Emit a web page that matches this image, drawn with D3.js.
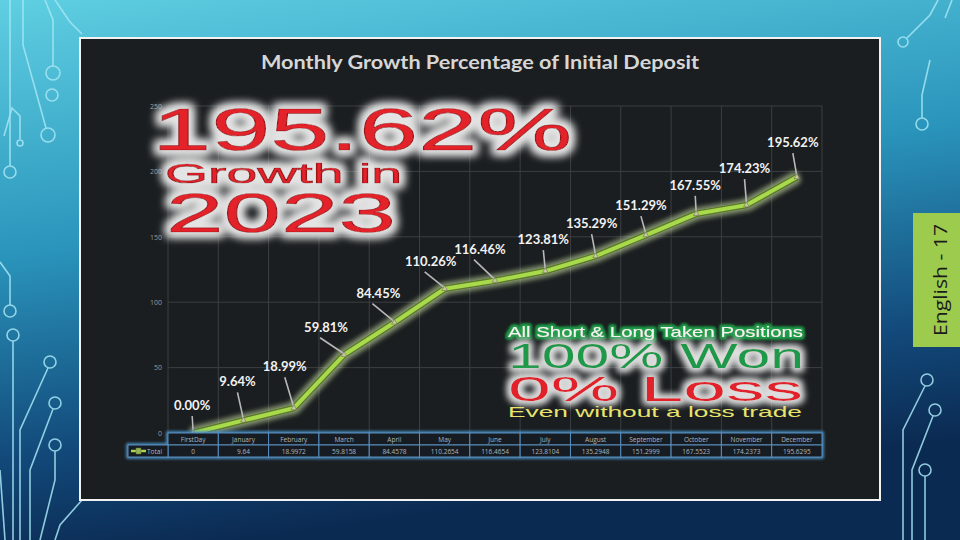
<!DOCTYPE html>
<html>
<head>
<meta charset="utf-8">
<script src="https://cdn.jsdelivr.net/npm/d3@7/dist/d3.min.js"></script>
<style>
  html, body { margin: 0; padding: 0; background: #0d2e55; }
  svg { display: block; }
</style>
</head>
<body>
<svg id="chart" width="960" height="540"></svg>
<script>
// ---------------- DATA ----------------
const categories = ["FirstDay", "January", "February", "March", "April", "May", "June",
  "July", "August", "September", "October", "November", "December"];
const values = [0, 9.64, 18.9972, 59.8158, 84.4578, 110.2654, 116.4654,
  123.8104, 135.2948, 151.2999, 167.5523, 174.2373, 195.6295];
const valueText = ["0", "9.64", "18.9972", "59.8158", "84.4578", "110.2654", "116.4654",
  "123.8104", "135.2948", "151.2999", "167.5523", "174.2373", "195.6295"];
const pointLabels = ["0.00%", "9.64%", "18.99%", "59.81%", "84.45%", "110.26%", "116.46%",
  "123.81%", "135.29%", "151.29%", "167.55%", "174.23%", "195.62%"];
const yTicks = [0, 50, 100, 150, 200, 250];
const seriesName = "Total";
const title = "Monthly Growth Percentage of Initial Deposit";
const bigLines = ["195.62%", "Growth in", "2023"];
const noteLines = ["All Short & Long Taken Positions", "100% Won", "0% Loss", "Even without a loss trade"];
const tabText = "English - 17";

// ---------------- LAYOUT ----------------
const svg = d3.select("#chart");
const defs = svg.append("defs");

// background gradient
const bg = defs.append("linearGradient").attr("id", "bg")
  .attr("x1", "0").attr("y1", "0").attr("x2", "0.25").attr("y2", "1");
bg.append("stop").attr("offset", "0").attr("stop-color", "#5fcfe2");
bg.append("stop").attr("offset", "0.45").attr("stop-color", "#2a94bb");
bg.append("stop").attr("offset", "0.8").attr("stop-color", "#12497a");
bg.append("stop").attr("offset", "1").attr("stop-color", "#0b2a52");
svg.append("rect").attr("width", 960).attr("height", 540).attr("fill", "url(#bg)");

// glow filters
function glowFilter(id, color, dilate, blur, opacity) {
  const f = defs.append("filter").attr("id", id)
    .attr("x", "-20%").attr("y", "-50%").attr("width", "140%").attr("height", "200%");
  f.append("feMorphology").attr("in", "SourceAlpha").attr("operator", "dilate")
    .attr("radius", dilate).attr("result", "d");
  f.append("feGaussianBlur").attr("in", "d").attr("stdDeviation", blur).attr("result", "b");
  f.append("feFlood").attr("flood-color", color).attr("flood-opacity", opacity).attr("result", "c");
  f.append("feComposite").attr("in", "c").attr("in2", "b").attr("operator", "in").attr("result", "g");
  const m = f.append("feMerge");
  m.append("feMergeNode").attr("in", "g");
  m.append("feMergeNode").attr("in", "g");
  m.append("feMergeNode").attr("in", "SourceGraphic");
}
glowFilter("whiteGlow", "#e4e4e4", 4, 5, 1);
glowFilter("softGlow", "#e0e0e0", 3, 3.5, 0.9);
glowFilter("greenGlow", "#23a04a", 1.5, 1.5, 0.95);
glowFilter("lineGlow", "#d8f0b0", 2, 2.5, 0.35);
glowFilter("tableGlow", "#4a90c8", 1, 1.5, 0.7);

// circuit decorations
const circ = svg.append("g").attr("fill", "none").attr("stroke", "#a6e6f4")
  .attr("stroke-width", 1.6).attr("opacity", 0.85);
const paths = [
  [[10, 0], [10, 166]], [[23, 0], [23, 45], [46, 128]], [[45, 0], [53, 20], [53, 66]],
  [[55, 0], [70, 22], [82, 34]], [[4, 136], [12, 108], [20, 116], [20, 139]],
  [[0, 262], [10, 276], [10, 305]], [[13, 341], [13, 540]],
  [[48, 368], [20, 430], [20, 540]], [[53, 409], [30, 470], [30, 540]],
  [[55, 451], [55, 480], [40, 540]], [[0, 470], [5, 540]],
  [[82, 500], [60, 525], [55, 540]],
  [[938, 0], [930, 15], [907, 38]], [[930, 60], [922, 95], [922, 118]],
  [[925, 386], [903, 430], [903, 540]], [[933, 416], [912, 470], [912, 540]],
  [[925, 476], [925, 540]], [[952, 0], [945, 18]]
];
paths.forEach(p => circ.append("path").attr("d", d3.line()(p)));
[[10, 172, 6], [48, 135, 7], [53, 73, 7], [52, 95, 6], [20, 143, 3], [10, 311, 6], [13, 335, 6],
 [50, 362, 6], [55, 403, 6], [55, 445, 6], [903, 42, 5], [922, 124, 6], [927, 380, 6],
 [935, 410, 6], [925, 470, 6]]
  .forEach(c => circ.append("circle").attr("cx", c[0]).attr("cy", c[1]).attr("r", c[2]));

// side tab
svg.append("rect").attr("x", 913).attr("y", 213).attr("width", 50).attr("height", 134).attr("fill", "#9dcb4d");
svg.append("text").attr("transform", "translate(947,280) rotate(-90)")
  .attr("text-anchor", "middle").attr("font-family", "Open Sans, sans-serif").attr("font-size", 18)
  .attr("textLength", 112).attr("lengthAdjust", "spacingAndGlyphs")
  .attr("fill", "#1b1b1b").text(tabText);

// chart frame
svg.append("rect").attr("x", 80).attr("y", 38).attr("width", 800).attr("height", 462)
  .attr("fill", "#1b1e20").attr("stroke", "#f2f2f2").attr("stroke-width", 2);

// title
svg.append("text").attr("x", 480).attr("y", 69).attr("text-anchor", "middle")
  .attr("font-family", "Lato, sans-serif").attr("font-weight", "bold").attr("font-size", 19)
  .attr("textLength", 438).attr("lengthAdjust", "spacingAndGlyphs")
  .attr("fill", "#d6d6d6").text(title);

// scales
const x = d3.scaleBand().domain(categories).range([168, 822]);
const y = d3.scaleLinear().domain([0, 250]).range([433, 106]);

// grid
const grid = svg.append("g").attr("stroke", "#3b3f42").attr("stroke-width", 1);
yTicks.filter(t => t > 0).forEach(t => grid.append("line")
  .attr("x1", 168).attr("x2", 822).attr("y1", y(t)).attr("y2", y(t)));
categories.forEach(c => grid.append("line")
  .attr("x1", x(c)).attr("x2", x(c)).attr("y1", 106).attr("y2", 433));
grid.append("line").attr("x1", 822).attr("x2", 822).attr("y1", 106).attr("y2", 433);

// y axis
const yAxis = svg.append("g").attr("transform", "translate(168,0)")
  .call(d3.axisLeft(y).tickValues(yTicks).tickSize(0).tickPadding(6));
yAxis.select(".domain").remove();
yAxis.selectAll("text").attr("fill", "#9a9a9a").attr("font-size", 7)
  .attr("font-family", "Open Sans, sans-serif");

// big red overlay text
const big = svg.append("g").attr("font-family", "Liberation Sans, Arial, sans-serif")
  .attr("fill", "#e3222a").attr("stroke", "#9a1218").attr("stroke-width", 0.7)
  .attr("filter", "url(#whiteGlow)");
[[bigLines[0], 152, 150, 60, 420], [bigLines[1], 165, 183, 28, 237], [bigLines[2], 166, 232, 56, 230]]
  .forEach(d => big.append("text").attr("x", d[1]).attr("y", d[2]).attr("font-size", d[3])
    .attr("textLength", d[4]).attr("lengthAdjust", "spacingAndGlyphs").text(d[0]));

// note text block
const note = svg.append("g").attr("font-family", "Liberation Sans, Arial, sans-serif");
note.append("text").attr("x", 508).attr("y", 337).attr("font-size", 15)
  .attr("textLength", 295).attr("lengthAdjust", "spacingAndGlyphs")
  .attr("fill", "#f4f4f4").attr("filter", "url(#greenGlow)").text(noteLines[0]);
note.append("text").attr("x", 508).attr("y", 368).attr("font-size", 35)
  .attr("textLength", 296).attr("lengthAdjust", "spacingAndGlyphs")
  .attr("fill", "#1a9a48").attr("filter", "url(#softGlow)").text(noteLines[1]);
note.append("text").attr("x", 508).attr("y", 401).attr("font-size", 35)
  .attr("textLength", 295).attr("lengthAdjust", "spacingAndGlyphs")
  .attr("fill", "#e1232b").attr("filter", "url(#softGlow)").text(noteLines[2]);
note.append("text").attr("x", 508).attr("y", 417).attr("font-size", 15)
  .attr("textLength", 294).attr("lengthAdjust", "spacingAndGlyphs")
  .attr("fill", "#e8e46e").text(noteLines[3]);

// series line
const pts = categories.map((c, i) => [x(c) + x.bandwidth() / 2, y(values[i])]);
const lineGen = d3.line();
svg.append("path").attr("d", lineGen(pts)).attr("fill", "none")
  .attr("stroke", "#5a7a2a").attr("stroke-width", 7).attr("stroke-linejoin", "round")
  .attr("filter", "url(#lineGlow)");
svg.append("path").attr("d", lineGen(pts)).attr("fill", "none")
  .attr("stroke", "#a8da4c").attr("stroke-width", 4).attr("stroke-linejoin", "round");

// data labels with leaders (nudges are layout only)
const nudge = [[-1, -23], [-6, -34], [-9, -37], [-18, -23], [-16, -25], [-14, -23], [-15, -27],
  [-2, -27], [-4, -28], [-5, -25], [-1, -24], [-2, -32], [-4, -30]];
const lab = svg.append("g");
pts.forEach((p, i) => {
  const lx = p[0] + nudge[i][0], ly = p[1] + nudge[i][1];
  lab.append("line").attr("x1", lx + (i > 2 && i < 7 ? -6 : 0)).attr("y1", ly + 6)
    .attr("x2", p[0]).attr("y2", p[1] - 1)
    .attr("stroke", "#b8b8b8").attr("stroke-width", 1.6);
  lab.append("path").attr("d", d3.symbol(d3.symbolTriangle, 14)())
    .attr("transform", `translate(${p[0]},${p[1]})`).attr("fill", "#c9c9a8").attr("stroke", "#6c6c50").attr("stroke-width", 0.6);
  lab.append("text").attr("x", lx).attr("y", ly).attr("text-anchor", "middle")
    .attr("font-family", "Lato, sans-serif").attr("font-weight", "bold").attr("font-size", 13)
    .attr("fill", "#f2f2f2").text(pointLabels[i]);
});

// data table
const tbl = svg.append("g");
const rowTop = 433, rowH = 12;
const cells = tbl.append("g").attr("fill", "#161b20").attr("stroke", "#5a8fbf")
  .attr("stroke-width", 1).attr("filter", "url(#tableGlow)");
categories.forEach(c => {
  cells.append("rect").attr("x", x(c)).attr("y", rowTop).attr("width", x.bandwidth()).attr("height", rowH);
  cells.append("rect").attr("x", x(c)).attr("y", rowTop + rowH).attr("width", x.bandwidth()).attr("height", rowH);
});
cells.append("rect").attr("x", 128).attr("y", rowTop + rowH).attr("width", 40).attr("height", rowH);
const tt = tbl.append("g").attr("font-family", "Open Sans, sans-serif").attr("font-size", 6.5)
  .attr("fill", "#b0b6bc").attr("text-anchor", "middle");
categories.forEach((c, i) => {
  const cx = x(c) + x.bandwidth() / 2;
  tt.append("text").attr("x", cx).attr("y", rowTop + 9).text(c);
  tt.append("text").attr("x", cx).attr("y", rowTop + rowH + 9).text(valueText[i]);
});
tbl.append("line").attr("x1", 131).attr("x2", 146).attr("y1", rowTop + rowH + 6).attr("y2", rowTop + rowH + 6)
  .attr("stroke", "#a5d84a").attr("stroke-width", 2.5);
tbl.append("rect").attr("x", 136).attr("y", rowTop + rowH + 3).attr("width", 5).attr("height", 6)
  .attr("fill", "#9ab35a").attr("stroke", "#556b2f").attr("stroke-width", 0.5);
tbl.append("text").attr("x", 147).attr("y", rowTop + rowH + 9).attr("font-family", "Open Sans, sans-serif")
  .attr("font-size", 6.5).attr("fill", "#b0b6bc").text(seriesName);
</script>
</body>
</html>
